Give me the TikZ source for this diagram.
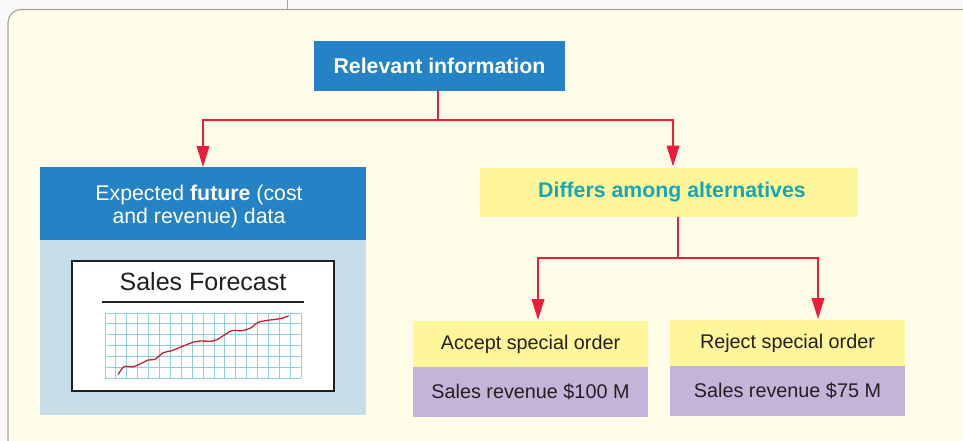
\documentclass[tikz,border=0pt]{standalone}
\usepackage{fontspec}
\setmainfont{Liberation Sans}
\usetikzlibrary{arrows.meta}

\definecolor{pagebg}{HTML}{F8F8F8}
\definecolor{panelbg}{HTML}{FFFCE7}
\definecolor{panelrule}{HTML}{A3A3A3}
\definecolor{hdrblue}{HTML}{2482C5}
\definecolor{paleblue}{HTML}{C6DEE8}
\definecolor{paleyellow}{HTML}{FFF69B}
\definecolor{lilac}{HTML}{C4B4D9}
\definecolor{linkred}{HTML}{EC1C3A}
\definecolor{tealtext}{HTML}{13A7BA}
\definecolor{inktext}{HTML}{231F20}
\definecolor{gridcyan}{HTML}{8ED1DA}
\definecolor{trendred}{HTML}{C8202E}

\tikzset{
  basebox/.style={inner sep=0pt, outer sep=0pt, align=center,
    font=\fontsize{21.3}{23.5}\selectfont},
  smallbox/.style={basebox, font=\fontsize{19.8}{23}\selectfont},
  bluebox/.style={basebox, fill=hdrblue, text=white},
  yellowbox/.style={basebox, fill=paleyellow, text=inktext},
  optionbox/.style={smallbox, fill=paleyellow, text=inktext},
  lilacbox/.style={smallbox, fill=lilac, text=inktext},
  link/.style={draw=linkred, line width=2pt},
  linkarrow/.style={link, -{Triangle[width=12.5pt,length=21pt]}},
}

\begin{document}
\begin{tikzpicture}[x=1pt, y=-1pt]
  % page and panel
  \fill[pagebg] (0,0) rectangle (963,440);
  \useasboundingbox (0,0) rectangle (963,440);
  \draw[panelrule, line width=1pt] (287,0) -- (287,9.5);
  \begin{scope}
    \clip (0,0) rectangle (963,440);
    \draw[panelrule, fill=panelbg, line width=1.1pt, rounded corners=13pt]
      (8,9.5) rectangle (990,470);
  \end{scope}

  % top node
  \node[bluebox, minimum width=251pt, minimum height=50pt] (rel) at (439.5,66)
    {\bfseries Relevant information};

  % left branch: future data
  \node[bluebox, minimum width=326pt, minimum height=73pt] (fut) at (203,203.5) {};
  \node[basebox, text=white] (futtext) at ([xshift=-4pt, yshift=-3pt]fut.center)
    {Expected \textbf{future} (cost\\and revenue) data};
  \node[basebox, fill=paleblue, minimum width=326pt, minimum height=175pt,
    anchor=north] (futbody) at (fut.south) {};

  % sales forecast chart
  \node[draw=inktext, line width=1.2pt, fill=white, minimum width=262pt,
    minimum height=130pt, inner sep=0pt] (chart) at (203,326) {};
  \node[font=\fontsize{25}{28}\selectfont, text=inktext, inner sep=0pt]
    (charttitle) at (203,282) {Sales Forecast};
  \draw[inktext, line width=1.2pt] (102,302) -- (304,302);
  \foreach \i in {0,...,18} {
    \draw[gridcyan, line width=0.8pt] (105+\i*10.89,313) -- (105+\i*10.89,378);
  }
  \foreach \j in {0,...,6} {
    \draw[gridcyan, line width=0.8pt] (105,313+\j*10.83) -- (301,313+\j*10.83);
  }
  \draw[trendred, line width=1.3pt, line cap=round] plot[smooth, tension=0.5] coordinates {
    (118.3,374.3) (124,366.7) (133.3,366.7) (140,364) (148.3,360) (155,359.3)
    (163.3,352.7) (171.7,350.7) (183.3,346) (196.7,341.3) (213.3,341)
    (221.7,336.7) (231.7,330.7) (241.7,330.7) (250,328.3) (258.3,322.3)
    (270,320) (280,318.7) (288.3,316)};

  % right branch: alternatives
  \node[yellowbox, minimum width=378pt, minimum height=49pt, text=tealtext]
    (diff) at (669,192) {\hspace*{6pt}\bfseries Differs among alternatives};

  \node[optionbox, minimum width=235pt, minimum height=47pt] (acc) at (530.5,344.5)
    {Accept special order};
  \node[lilacbox, minimum width=235pt, minimum height=50pt, anchor=north]
    (accrev) at ([yshift=1pt]acc.south) {Sales revenue \$100 M};

  \node[optionbox, minimum width=235pt, minimum height=47pt] (rej) at (787.5,343.5)
    {Reject special order};
  \node[lilacbox, minimum width=235pt, minimum height=50pt, anchor=north]
    (rejrev) at ([yshift=1pt]rej.south) {Sales revenue \$75 M};

  % connectors
  \coordinate (split1) at ([xshift=-1.5pt, yshift=-29pt]rel.south);
  \draw[link] ([xshift=-1.5pt]rel.south) -- (split1);
  \draw[linkarrow] (split1) -| (fut.north);
  \draw[linkarrow] (split1) -| ([xshift=4pt, yshift=1pt]diff.north);

  \coordinate (split2) at ([xshift=9pt, yshift=-41pt]diff.south);
  \draw[link] ([xshift=9pt]diff.south) -- (split2);
  \draw[linkarrow] (split2) -| ([xshift=7.5pt, yshift=1pt]acc.north);
  \draw[linkarrow] (split2) -| ([xshift=30.5pt, yshift=1pt]rej.north);
\end{tikzpicture}
\end{document}
